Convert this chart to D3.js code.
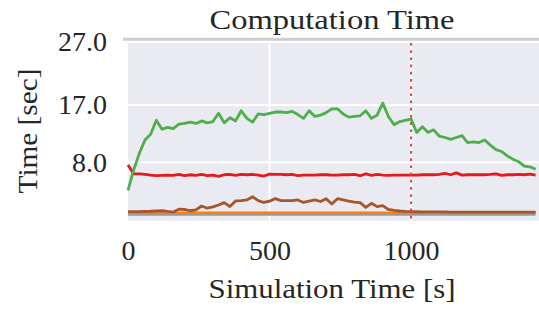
<!DOCTYPE html>
<html>
<head>
<meta charset="utf-8">
<script src="https://d3js.org/d3.v7.min.js"></script>
<style>
  body { margin: 0; background: #fff; }
  text { font-family: "Liberation Serif", "Times New Roman", serif; fill: #262626; }
</style>
</head>
<body>
<script>

// sampled every 20 s of simulation time
var simTime = [0, 20, 40, 60, 80, 100, 120, 140, 160, 180,
  200, 220, 240, 260, 280, 300, 320, 340, 360, 380,
  400, 420, 440, 460, 480, 500, 520, 540, 560, 580,
  600, 620, 640, 660, 680, 700, 720, 740, 760, 780,
  800, 820, 840, 860, 880, 900, 920, 940, 960, 980,
  1000, 1020, 1040, 1060, 1080, 1100, 1120, 1140, 1160, 1180,
  1200, 1220, 1240, 1260, 1280, 1300, 1320, 1340, 1360, 1380,
  1400, 1420, 1440];

var greenTime = [3.6, 6.8, 9.4, 11.5, 12.4, 14.6, 13.2, 13.5, 13.3, 14.0,
  14.1, 14.3, 14.1, 14.5, 14.2, 14.4, 15.7, 14.2, 15.0, 14.5,
  16.1, 14.9, 14.3, 15.6, 15.5, 15.7, 15.9, 15.9, 15.8, 16.0,
  15.5, 14.9, 16.1, 15.2, 15.4, 15.8, 16.4, 16.4, 15.6, 15.1,
  15.2, 15.3, 16.1, 14.9, 15.4, 17.3, 15.2, 13.9, 14.4, 14.6,
  14.8, 12.7, 13.6, 12.7, 13.1, 12.1, 11.9, 11.6, 11.9, 12.2,
  11.1, 11.2, 11.1, 11.5, 10.7, 10.0, 9.7, 9.0, 8.5, 8.1,
  7.4, 7.3, 6.9];

var redTime = [7.6, 6.2, 6.2, 6.1, 6.0, 5.9, 5.95, 6.0, 5.95, 6.1,
  5.9, 6.05, 5.95, 6.1, 5.9, 6.0, 5.8, 6.05, 6.1, 5.95,
  6.1, 6.05, 6.1, 6.0, 5.85, 6.15, 6.1, 6.1, 6.05, 6.1,
  5.9, 6.0, 6.0, 6.0, 6.05, 6.05, 6.0, 6.0, 6.05, 6.05,
  6.1, 5.9, 6.2, 5.95, 6.1, 6.0, 5.95, 6.0, 6.0, 6.0,
  6.0, 6.0, 6.05, 6.05, 6.05, 6.1, 6.25, 6.05, 6.35, 6.0,
  6.05, 6.05, 6.05, 6.05, 6.1, 6.2, 5.95, 6.05, 6.05, 6.1,
  6.05, 6.15, 6.0];

var brownTime = [0.25, 0.25, 0.27, 0.3, 0.32, 0.38, 0.42, 0.3, 0.2, 0.65,
  0.6, 0.4, 0.55, 1.15, 0.8, 1.0, 1.3, 1.68, 1.05, 1.94,
  2.0, 2.1, 2.6, 2.0, 1.7, 1.9, 2.3, 2.0, 2.0, 2.0,
  2.1, 1.7, 1.9, 2.1, 1.85, 2.3, 1.45, 2.3, 2.1, 1.9,
  1.75, 1.68, 0.94, 1.57, 1.05, 1.2, 0.6, 0.45, 0.36, 0.3,
  0.26, 0.24, 0.23, 0.22, 0.22, 0.21, 0.21, 0.2, 0.2, 0.2,
  0.2, 0.2, 0.2, 0.2, 0.19, 0.19, 0.19, 0.19, 0.19, 0.19,
  0.19, 0.19, 0.19];

var orangeTime = [0.14, 0.14, 0.14, 0.14, 0.14, 0.14, 0.14, 0.14, 0.14, 0.14,
  0.14, 0.14, 0.14, 0.14, 0.14, 0.14, 0.14, 0.14, 0.14, 0.14,
  0.14, 0.14, 0.14, 0.14, 0.14, 0.14, 0.14, 0.14, 0.14, 0.14,
  0.14, 0.14, 0.14, 0.14, 0.14, 0.14, 0.14, 0.14, 0.14, 0.14,
  0.14, 0.14, 0.14, 0.14, 0.14, 0.14, 0.14, 0.14, 0.14, 0.14,
  0.14, 0.14, 0.14, 0.14, 0.14, 0.14, 0.14, 0.14, 0.14, 0.14,
  0.14, 0.14, 0.14, 0.14, 0.14, 0.14, 0.14, 0.14, 0.14, 0.14,
  0.14, 0.14, 0.14];

var grayTime = [-0.15, -0.15, -0.15, -0.15, -0.15, -0.15, -0.15, -0.15, -0.15, -0.15,
  -0.15, -0.15, -0.15, -0.15, -0.15, -0.15, -0.15, -0.15, -0.15, -0.15,
  -0.15, -0.15, -0.15, -0.15, -0.15, -0.15, -0.15, -0.15, -0.15, -0.15,
  -0.15, -0.15, -0.15, -0.15, -0.15, -0.15, -0.15, -0.15, -0.15, -0.15,
  -0.15, -0.15, -0.15, -0.15, -0.15, -0.15, -0.15, -0.15, -0.15, -0.15,
  -0.15, -0.15, -0.15, -0.15, -0.15, -0.15, -0.15, -0.15, -0.15, -0.15,
  -0.15, -0.15, -0.15, -0.15, -0.15, -0.15, -0.15, -0.15, -0.15, -0.15,
  -0.15, -0.15, -0.15];

var xTicks = [0, 500, 1000];
var yTicks = [8.0, 17.0, 27.0];
var markerTime = 1000;

// layout (note: "top" is reserved on window, so use plot* names)
var width = 539, height = 311;
var plotLeft = 128, plotRight = 539, plotTop = 43, plotBottom = 221;

var x = d3.scaleLinear().domain([0, 1452]).range([plotLeft, plotRight]);
var y = d3.scaleLinear().domain([0, 27]).range([213.3, 41.3]);

var svg = d3.select("body").append("svg").attr("width", width).attr("height", height);

// background
svg.append("rect")
  .attr("x", plotLeft).attr("y", plotTop)
  .attr("width", plotRight - plotLeft).attr("height", plotBottom - plotTop)
  .attr("fill", "#eaeaf2");

// top rule (at 27)
svg.append("line")
  .attr("x1", plotLeft - 5).attr("x2", plotRight)
  .attr("y1", y(27) - 2).attr("y2", y(27) - 2)
  .attr("stroke", "#cdcdcd").attr("stroke-width", 3);

// grid
svg.selectAll(".hgrid").data(yTicks.filter(function(d){ return d < 27; }))
  .enter().append("line").classed("hgrid", true)
  .attr("x1", plotLeft).attr("x2", plotRight)
  .attr("y1", function(d){ return y(d); }).attr("y2", function(d){ return y(d); })
  .attr("stroke", "#fff").attr("stroke-width", 2);

svg.selectAll(".vgrid").data(xTicks.filter(function(d){ return d > 0; }))
  .enter().append("line").classed("vgrid", true)
  .attr("x1", function(d){ return x(d); }).attr("x2", function(d){ return x(d); })
  .attr("y1", plotTop).attr("y2", plotBottom)
  .attr("stroke", "#fff").attr("stroke-width", 2);

var series = [
  { values: grayTime, color: "#9a9a9a", w: 3 },
  { values: orangeTime, color: "#ff7f00", w: 2 },
  { values: brownTime, color: "#a65628", w: 2.8 },
  { values: redTime, color: "#e41a1c", w: 2.8 },
  { values: greenTime, color: "#4daf4a", w: 2.8 }
];

var line = d3.line()
  .x(function(d, i){ return x(simTime[i]); })
  .y(function(d){ return y(d); });

svg.selectAll(".series").data(series)
  .enter().append("path").classed("series", true)
  .attr("d", function(s){ return line(s.values); })
  .attr("fill", "none")
  .attr("stroke", function(s){ return s.color; })
  .attr("stroke-width", function(s){ return s.w; })
  .attr("stroke-linejoin", "round");

// marker line
svg.append("line")
  .attr("x1", x(markerTime)).attr("x2", x(markerTime))
  .attr("y1", plotTop).attr("y2", plotBottom)
  .attr("stroke", "#d24b4b").attr("stroke-width", 2)
  .attr("stroke-dasharray", "2.7,4.5");

// axes
var xAxis = svg.append("g")
  .attr("transform", "translate(0," + plotBottom + ")")
  .call(d3.axisBottom(x).tickValues(xTicks).tickSize(0).tickPadding(19).tickFormat(d3.format("d")));
xAxis.select(".domain").remove();

var yAxis = svg.append("g")
  .attr("transform", "translate(" + plotLeft + ",0)")
  .call(d3.axisLeft(y).tickValues(yTicks).tickSize(0).tickPadding(21).tickFormat(d3.format(".1f")));
yAxis.select(".domain").remove();

svg.selectAll(".tick text")
  .style("font-family", "'Liberation Serif', serif")
  .style("font-size", "28px")
  .attr("fill", "#262626");

// titles
svg.append("text")
  .attr("x", 332).attr("y", 29)
  .attr("text-anchor", "middle")
  .attr("font-size", 28)
  .attr("textLength", 245).attr("lengthAdjust", "spacingAndGlyphs")
  .text("Computation Time");

svg.append("text")
  .attr("x", 332).attr("y", 298)
  .attr("text-anchor", "middle")
  .attr("font-size", 28)
  .attr("textLength", 247).attr("lengthAdjust", "spacingAndGlyphs")
  .text("Simulation Time [s]");

svg.append("text")
  .attr("transform", "translate(37,131) rotate(-90)")
  .attr("text-anchor", "middle")
  .attr("font-size", 28)
  .attr("textLength", 125).attr("lengthAdjust", "spacingAndGlyphs")
  .text("Time [sec]");

</script>
</body>
</html>
